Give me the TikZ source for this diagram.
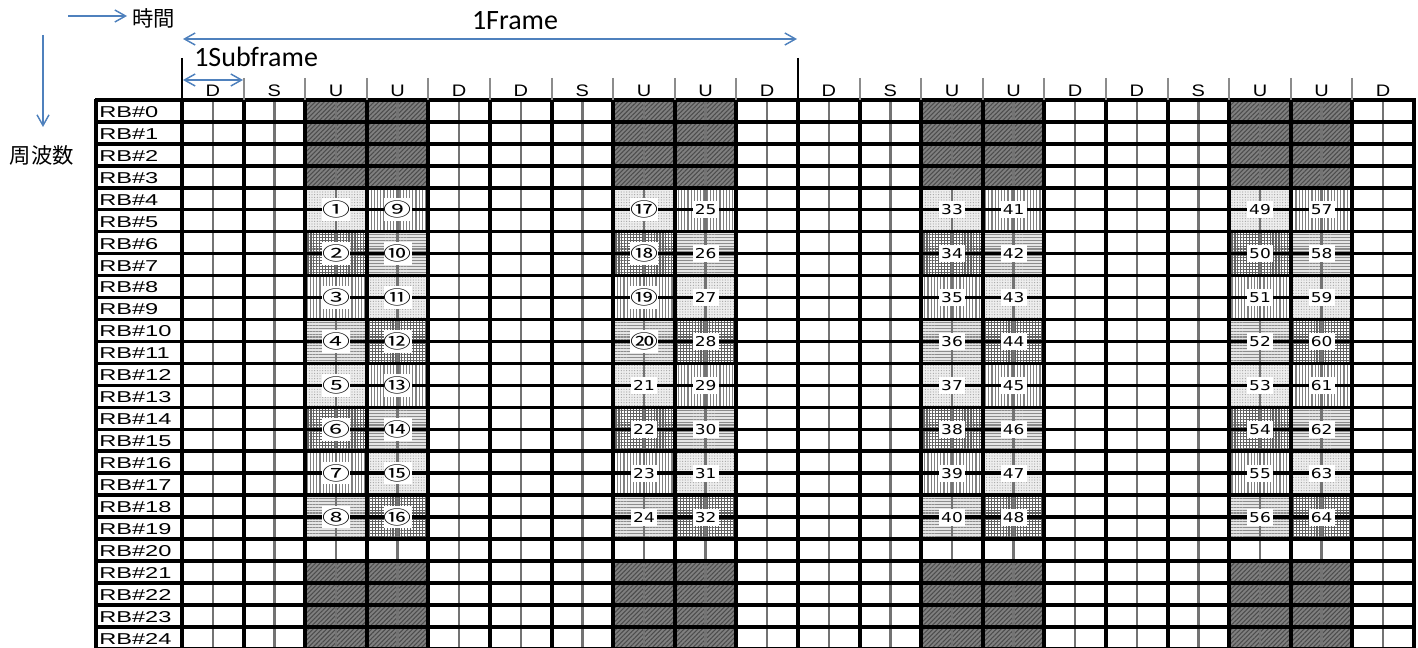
\documentclass[tikz,border=0pt]{standalone}
\usepackage{fontspec}
\setmainfont{Liberation Sans}
\newfontfamily\cjkfont{Noto Sans CJK JP}
\newfontfamily\calfont{Carlito}
\newfontfamily\dvfont{DejaVu Sans}
\usetikzlibrary{arrows.meta,patterns.meta}
\definecolor{arrowblue}{RGB}{79,129,189}
\newcommand\hs[2]{\scalebox{#1}[1]{#2}}
\newcommand\darkblk[4]{%
  \fill[black!50] (#1,#2) rectangle (#3,#4);
  \fill[pattern={Lines[angle=45,distance=2.4pt,line width=0.8pt]},pattern color=black!70] (#1,#2) rectangle (#3,#4);}
\newcommand\blk[5]{%
  \ifcase#1\relax
    \fill[black!7] (#2,#3) rectangle (#4,#5);
    \fill[pattern={Dots[distance=2pt,radius=0.45pt]},pattern color=black!35] (#2,#3) rectangle (#4,#5);
  \or
    \fill[white] (#2,#3) rectangle (#4,#5);
    \fill[pattern={Lines[angle=0,distance=2.2pt,line width=0.9pt]},pattern color=black!62] (#2,#3) rectangle (#4,#5);
    \fill[pattern={Lines[angle=90,distance=2.2pt,line width=0.9pt]},pattern color=black!62] (#2,#3) rectangle (#4,#5);
  \or
    \fill[white] (#2,#3) rectangle (#4,#5);
    \fill[pattern={Lines[angle=90,distance=2.4pt,line width=1pt]},pattern color=black!50] (#2,#3) rectangle (#4,#5);
  \or
    \fill[black!10] (#2,#3) rectangle (#4,#5);
    \fill[pattern={Lines[angle=0,distance=2.2pt,line width=0.9pt]},pattern color=black!45] (#2,#3) rectangle (#4,#5);
  \fi}
\tikzset{
  hline/.style={black,line width=2.6pt},
  vline/.style={black,line width=3pt},
  midline/.style={black!55,line width=1.8pt},
  hdrsep/.style={black!45,line width=1.5pt},
  framesep/.style={black,line width=1.5pt},
  barrow/.style={arrowblue,line width=1.1pt,-{Straight Barb[length=8pt,width=9pt]}},
  bbarrow/.style={arrowblue,line width=1.1pt,{Straight Barb[length=8pt,width=9pt]}-{Straight Barb[length=8pt,width=9pt]}},
  rblab/.style={anchor=west,inner sep=0pt,font=\fontsize{11.8}{11.8}\selectfont},
  hdr/.style={inner sep=0pt,font=\fontsize{12.5}{12.5}\selectfont},
  circlab/.style={fill=white,inner sep=0pt,minimum width=18.5pt,minimum height=17pt,font=\cjkfont\fontsize{14}{14}\selectfont},
  numlab/.style={fill=white,inner sep=0pt,minimum width=19.5pt,minimum height=12.8pt,font=\dvfont\fontsize{10.2}{10.2}\selectfont},
  cjklab/.style={inner sep=0pt,font=\cjkfont\fontsize{16}{16}\selectfont},
  callab/.style={inner sep=0pt,font=\calfont\fontsize{21}{21}\selectfont}
}
\begin{document}
\begin{tikzpicture}[x=0.75pt,y=-0.75pt]
\useasboundingbox (0,0) rectangle (1418,648);
% ---- pattern fills of the U subframes
\foreach \s/\off in {2/0,3/2,7/0,8/2,12/0,13/2,17/0,18/2} {
  \pgfmathsetmacro\xa{182+61.6*\s}
  \pgfmathsetmacro\xb{\xa+61.6}
  \darkblk{\xa}{100}{\xb}{187.8}
  \darkblk{\xa}{560.95}{\xb}{648}
  \foreach \k in {0,...,7} {
    \pgfmathtruncatemacro\t{mod(\k+\off,4)}
    \pgfmathsetmacro\ya{100+21.95*(4+2*\k)}
    \pgfmathsetmacro\yb{\ya+43.9}
    \blk{\t}{\xa}{\ya}{\xb}{\yb}
  }
}
% ---- grid
\foreach \s in {0,...,19}
  \draw[midline] ({182+61.6*(\s+0.5)},100) -- ({182+61.6*(\s+0.5)},648);
\foreach \j in {0,...,25}
  \draw[hline] (95,{100+21.95*\j}) -- (1415.5,{100+21.95*\j});
\draw[vline] (96,98.75) -- (96,648);
\foreach \i in {0,...,20}
  \draw[vline] ({182+61.6*\i},98.75) -- ({182+61.6*\i},648);
% ---- header
\foreach \i in {1,...,9,11,12,...,19}
  \draw[hdrsep] ({182+61.6*\i},78) -- ({182+61.6*\i},100);
\draw[framesep] (182,58) -- (182,100);
\draw[framesep] (798,58) -- (798,100);
\foreach \L [count=\i from 0] in {D,S,U,U,D,D,S,U,U,D,D,S,U,U,D,D,S,U,U,D}
  \node[hdr] (h\i) at ({182+61.6*(\i+0.5)},91) {\hs{1.2}{\L}};
% ---- row labels
\foreach \j in {0,...,24}
  \node[rblab] (rb\j) at (99,{100+21.95*(\j+0.5)+1}) {\hs{1.5}{RB\#\j}};
% ---- block numbers
\foreach \s [count=\u from 0] in {2,3,7,8,12,13,17,18} {
  \pgfmathsetmacro\xc{182+61.6*(\s+0.5)}
  \foreach \k in {0,...,7} {
    \pgfmathtruncatemacro\n{8*\u+\k+1}
    \pgfmathsetmacro\yc{100+21.95*(5+2*\k)}
    \ifnum\n<21
      \node[circlab] (n\n) at (\xc,\yc) {\hs{1.5}{\char\numexpr"245F+\n\relax}};
    \else
      \node[numlab] (n\n) at (\xc,\yc) {\hs{1.25}{\n}};
    \fi
  }
}
% ---- axes and spans
\coordinate (t0) at (68,16);
\coordinate (t1) at (127,16);
\draw[barrow] (t0) -- (t1);
\node[cjklab,anchor=west] (jikan) at (132,18) {時間};
\coordinate (f0) at (43,35);
\coordinate (f1) at (43,127);
\draw[barrow] (f0) -- (f1);
\node[cjklab] (shuhasu) at (42,155) {周波数};
\coordinate (fr0) at (183,39);
\coordinate (fr1) at (797,39);
\draw[bbarrow] (fr0) -- (fr1);
\node[callab] (frame) at (515,21) {1Frame};
\node[callab,anchor=west] (subframe) at (194,57) {1Subframe};
\coordinate (sf0) at (183,80);
\coordinate (sf1) at (243,80);
\draw[bbarrow] (sf0) -- (sf1);
\end{tikzpicture}
\end{document}
